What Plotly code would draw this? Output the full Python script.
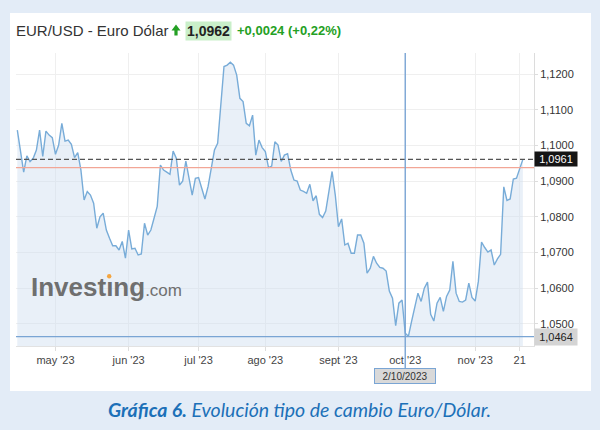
import plotly.graph_objects as go

# ---------------- data ----------------
dates = [
    "2023-04-13", "2023-04-14", "2023-04-17", "2023-04-18", "2023-04-19", "2023-04-20",
    "2023-04-21", "2023-04-24", "2023-04-25", "2023-04-26", "2023-04-27", "2023-04-28",
    "2023-05-01", "2023-05-02", "2023-05-03", "2023-05-04", "2023-05-05", "2023-05-08",
    "2023-05-09", "2023-05-10", "2023-05-11", "2023-05-12", "2023-05-15", "2023-05-16",
    "2023-05-17", "2023-05-18", "2023-05-19", "2023-05-22", "2023-05-23", "2023-05-24",
    "2023-05-25", "2023-05-26", "2023-05-29", "2023-05-30", "2023-05-31",
    "2023-06-01", "2023-06-02", "2023-06-05", "2023-06-06", "2023-06-07", "2023-06-08",
    "2023-06-09", "2023-06-12", "2023-06-13", "2023-06-14", "2023-06-15", "2023-06-16",
    "2023-06-19", "2023-06-20", "2023-06-21", "2023-06-22", "2023-06-23", "2023-06-26",
    "2023-06-27", "2023-06-28", "2023-06-29", "2023-06-30",
    "2023-07-03", "2023-07-04", "2023-07-05", "2023-07-06", "2023-07-07", "2023-07-10",
    "2023-07-11", "2023-07-12", "2023-07-13", "2023-07-14", "2023-07-17", "2023-07-18",
    "2023-07-19", "2023-07-20", "2023-07-21", "2023-07-24", "2023-07-25", "2023-07-26",
    "2023-07-27", "2023-07-28", "2023-07-31",
    "2023-08-01", "2023-08-02", "2023-08-03", "2023-08-04", "2023-08-07", "2023-08-08",
    "2023-08-09", "2023-08-10", "2023-08-11", "2023-08-14", "2023-08-15", "2023-08-16",
    "2023-08-17", "2023-08-18", "2023-08-21", "2023-08-22", "2023-08-23", "2023-08-24",
    "2023-08-25", "2023-08-28", "2023-08-29", "2023-08-30", "2023-08-31",
    "2023-09-01", "2023-09-04", "2023-09-05", "2023-09-06", "2023-09-07", "2023-09-08",
    "2023-09-11", "2023-09-12", "2023-09-13", "2023-09-14", "2023-09-15", "2023-09-18",
    "2023-09-19", "2023-09-20", "2023-09-21", "2023-09-22", "2023-09-25", "2023-09-26",
    "2023-09-27", "2023-09-28", "2023-09-29",
    "2023-10-02", "2023-10-03", "2023-10-04", "2023-10-05", "2023-10-06", "2023-10-09",
    "2023-10-10", "2023-10-11", "2023-10-12", "2023-10-13", "2023-10-16", "2023-10-17",
    "2023-10-18", "2023-10-19", "2023-10-20", "2023-10-23", "2023-10-24", "2023-10-25",
    "2023-10-26", "2023-10-27", "2023-10-30", "2023-10-31",
    "2023-11-01", "2023-11-02", "2023-11-03", "2023-11-06", "2023-11-07", "2023-11-08",
    "2023-11-09", "2023-11-10", "2023-11-13", "2023-11-14", "2023-11-15", "2023-11-16",
    "2023-11-17", "2023-11-20", "2023-11-21", "2023-11-22",
]
eurusd = [
    # April
    1.1043, 1.0987, 1.0925, 1.0971, 1.0955, 1.0964, 1.0987, 1.1043, 1.0969, 1.1040, 1.1029, 1.1022,
    # May
    1.0975, 1.1001, 1.1062, 1.1012, 1.1015, 1.1003, 1.0966, 1.0980, 1.0931, 1.0847, 1.0871, 1.0861,
    1.0838, 1.0768, 1.0800, 1.0810, 1.0763, 1.0740, 1.0719, 1.0719, 1.0707, 1.0731, 1.0684,
    # June
    1.0763, 1.0710, 1.0712, 1.0693, 1.0696, 1.0782, 1.0749, 1.0763, 1.0796, 1.0829, 1.0945, 1.0931,
    1.0925, 1.0919, 1.0984, 1.0964, 1.0889, 1.0900, 1.0956, 1.0913, 1.0861, 1.0908,
    # July
    1.0910, 1.0880, 1.0850, 1.0885, 1.0941, 1.0987, 1.1006, 1.1113, 1.1221, 1.1225, 1.1233, 1.1225,
    1.1197, 1.1132, 1.1123, 1.1062, 1.1055, 1.1085, 1.0973, 1.1015, 1.0994,
    # August
    1.0983, 1.0938, 1.0942, 1.1010, 1.1001, 1.0955, 1.0973, 1.0977, 1.0931, 1.0903, 1.0900, 1.0875,
    1.0871, 1.0866, 1.0891, 1.0845, 1.0859, 1.0807, 1.0798, 1.0816, 1.0871, 1.0927, 1.0861,
    # September
    1.0772, 1.0794, 1.0721, 1.0726, 1.0698, 1.0698, 1.0749, 1.0749, 1.0726, 1.0642, 1.0656, 1.0689,
    1.0670, 1.0658, 1.0656, 1.0648, 1.0592, 1.0572, 1.0495, 1.0558, 1.0567,
    # October
    1.0474, 1.0465, 1.0507, 1.0549, 1.0586, 1.0563, 1.0600, 1.0617, 1.0527, 1.0508, 1.0558, 1.0574,
    1.0535, 1.0577, 1.0595, 1.0675, 1.0586, 1.0563, 1.0561, 1.0567, 1.0614, 1.0574,
    # November
    1.0564, 1.0619, 1.0729, 1.0714, 1.0701, 1.0707, 1.0665, 1.0682, 1.0695, 1.0884, 1.0846, 1.0850,
    1.0906, 1.0908, 1.0936, 1.0961,
]

last_price = 1.0961
prev_close = 1.0938
cross_date = "2023-10-02"
cross_label = "2/10/2023"
cross_value = 1.0464

y_tickvals = [1.05, 1.06, 1.07, 1.08, 1.09, 1.10, 1.11, 1.12]
x_tickvals = ["2023-05-01", "2023-06-01", "2023-07-03", "2023-08-01",
              "2023-09-01", "2023-10-02", "2023-11-01", "2023-11-21"]
x_ticktext = ["may '23", "jun '23", "jul '23", "ago '23",
              "sept '23", "oct '23", "nov '23", "21"]

title_text = "EUR/USD - Euro Dólar"
price_text = "1,0962"
change_text = "+0,0024 (+0,22%)"
caption_text = "<b><i>Gráfica 6.</i></b><i> Evolución tipo de cambio Euro/Dólar.</i>"

# ---------------- layout geometry ----------------
W, H = 600, 430
L, R, T, B = 16, 66, 53, 84
PW, PH = W - L - R, H - T - B


def px(x):
    return (x - L) / PW


def py(y):
    return (H - B - y) / PH


FONT = "Arial, Liberation Sans, sans-serif"
LINE_BLUE = "#78acd8"
CROSS_BLUE = "#7aa5d4"
GREEN = "#24a024"

fig = go.Figure()
fig.add_trace(go.Scatter(
    x=dates, y=eurusd, mode="lines",
    line=dict(color=LINE_BLUE, width=1.4),
    fill="tozeroy", fillcolor="rgba(206,222,240,0.45)",
    hoverinfo="skip", showlegend=False,
))

shapes = [
    # white card
    dict(type="rect", xref="paper", yref="paper", x0=px(10), x1=px(591), y0=py(391), y1=py(13),
         fillcolor="white", line=dict(width=0), layer="below"),
    # previous close (red)
    dict(type="line", xref="paper", yref="y", x0=0, x1=1, y0=prev_close, y1=prev_close,
         line=dict(color="#f2a696", width=1.3)),
    # last price (dashed)
    dict(type="line", xref="paper", yref="y", x0=0, x1=1, y0=last_price, y1=last_price,
         line=dict(color="#555555", width=1.2, dash="5px,3px")),
    # crosshair horizontal
    dict(type="line", xref="paper", yref="y", x0=0, x1=1, y0=cross_value, y1=cross_value,
         line=dict(color=CROSS_BLUE, width=1.2)),
    # crosshair vertical
    dict(type="line", xref="x", yref="paper", x0=cross_date, x1=cross_date, y0=py(369), y1=1,
         line=dict(color=CROSS_BLUE, width=1.4)),
    # green up arrow in the header
    dict(type="path", xref="paper", yref="paper",
         path="M {a},{b} L {c},{d} L {e},{b} L {f},{b} L {f},{g} L {h},{g} L {h},{b} Z".format(
             a=px(171.5), b=py(30.5), c=px(176), d=py(24.5), e=px(180.5),
             f=px(177.6), g=py(35.5), h=px(174.4)),
         fillcolor=GREEN, line=dict(width=0)),
    # orange dot of the "i" in the watermark
    dict(type="circle", xref="paper", yref="paper",
         x0=px(107.0), x1=px(111.4), y0=py(278.4), y1=py(274.0),
         fillcolor="#f4a540", line=dict(width=0)),
]

annotations = [
    dict(text=title_text, xref="paper", yref="paper", x=px(14), y=py(30.5),
         xanchor="left", yanchor="middle", showarrow=False,
         font=dict(family=FONT, size=15, color="#333333")),
    dict(text="<b>" + price_text + "</b>", xref="paper", yref="paper", x=px(184.5), y=py(30.5),
         xanchor="left", yanchor="middle", showarrow=False, bgcolor="#c9efc9", borderpad=1,
         font=dict(family=FONT, size=14, color="#222222")),
    dict(text="<b>" + change_text + "</b>", xref="paper", yref="paper", x=px(234.7), y=py(30.5),
         xanchor="left", yanchor="middle", showarrow=False,
         font=dict(family=FONT, size=13, color=GREEN)),
    # right side value boxes
    dict(text="1,0961", xref="paper", yref="y", x=1, y=last_price, xanchor="left", yanchor="middle",
         showarrow=False, bgcolor="#151515", borderpad=1, width=40, height=12,
         font=dict(family=FONT, size=11, color="white")),
    dict(text="1,0464", xref="paper", yref="y", x=1, y=cross_value, xanchor="left", yanchor="middle",
         showarrow=False, bgcolor="#d4d4d4", borderpad=1, width=40, height=14,
         font=dict(family=FONT, size=11, color="#222222")),
    # crosshair date box
    dict(text=cross_label, xref="x", yref="paper", x=cross_date, y=py(376), xanchor="center",
         yanchor="middle", showarrow=False, bgcolor="#d9d9d9", bordercolor=CROSS_BLUE,
         borderwidth=1, borderpad=1, width=58, height=12,
         font=dict(family=FONT, size=10, color="#333333")),
    # watermark
    dict(text="<b>Invest\u0131ng</b><span style='font-size:17px'>.com</span>",
         xref="paper", yref="paper", x=px(28.7), y=py(287), xanchor="left", yanchor="middle",
         showarrow=False, font=dict(family=FONT, size=26, color="#6f6f6f")),
    # caption
    dict(text=caption_text, xref="paper", yref="paper", x=px(299), y=py(409),
         xanchor="center", yanchor="middle", showarrow=False,
         font=dict(family="Lato, Open Sans, sans-serif", size=19.5, color="#1c70b8")),
]

fig.update_layout(
    width=W, height=H,
    margin=dict(l=L, r=R, t=T, b=B, pad=0),
    paper_bgcolor="#e3ecf7",
    plot_bgcolor="white",
    separators=",.",
    showlegend=False,
    shapes=shapes,
    annotations=annotations,
    xaxis=dict(
        type="date",
        range=["2023-04-12 14:00", "2023-11-27 12:00"],
        rangebreaks=[dict(bounds=["sat", "mon"])],
        tickmode="array", tickvals=x_tickvals, ticktext=x_ticktext,
        showgrid=True, gridcolor="#efefef", gridwidth=1,
        ticks="outside", ticklen=4, tickcolor="#dddddd",
        showline=True, linecolor="#e2e2e2", zeroline=False,
        tickfont=dict(family=FONT, size=11, color="#444444"),
        fixedrange=True,
    ),
    yaxis=dict(
        side="right",
        range=[1.0438, 1.1259],
        tickmode="array", tickvals=y_tickvals, tickformat=".4f",
        showgrid=True, gridcolor="#efefef", gridwidth=1,
        ticks="outside", ticklen=3, tickcolor="#dddddd",
        showline=True, linecolor="#dcdcdc", zeroline=False,
        tickfont=dict(family=FONT, size=11, color="#333333"),
        fixedrange=True,
    ),
)

fig.write_html("out.html")
